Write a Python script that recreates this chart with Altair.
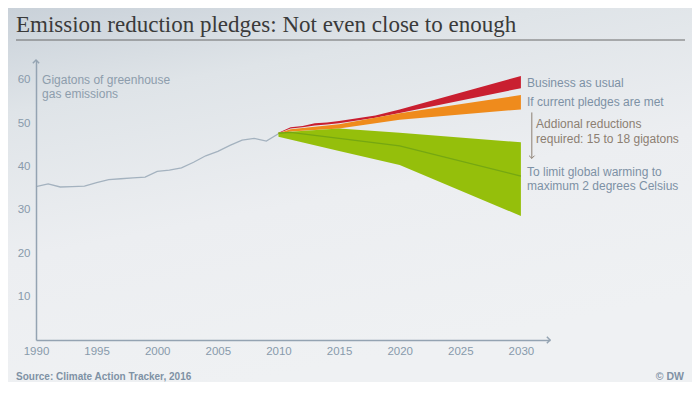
import altair as alt
import pandas as pd

# ---- data ----
hist_years = list(range(1990, 2011))
hist_values = [35.4, 36.0, 35.3, 35.4, 35.5, 36.3, 37.0, 37.2, 37.4, 37.6, 38.9,
               39.2, 39.7, 41.0, 42.5, 43.5, 44.9, 46.1, 46.5, 45.9, 47.6]

bau_years = [2010, 2011, 2012, 2013, 2014, 2015, 2018, 2020, 2030]
bau_low = [47.7, 48.8, 49.1, 49.5, 49.7, 50.0, 51.3, 52.4, 58.1]
bau_high = [47.8, 49.1, 49.4, 50.0, 50.2, 50.5, 51.8, 53.2, 60.9]

pledge_years = [2010, 2011, 2015, 2020, 2030]
pledge_low = [47.6, 48.1, 48.8, 50.8, 53.2]
pledge_high = [47.7, 48.6, 49.8, 52.3, 56.5]

two_deg_years = [2010, 2015, 2020, 2030]
two_deg_low = [46.9, 43.6, 40.4, 28.6]
two_deg_high = [47.9, 48.8, 47.8, 45.6]
two_deg_mid_years = [2010, 2011, 2020, 2030]
two_deg_mid = [47.7, 47.9, 44.8, 37.8]

x_ticks = [1990, 1995, 2000, 2005, 2010, 2015, 2020, 2025, 2030]
y_ticks = [10, 20, 30, 40, 50, 60]

label_text = ["Business as usual", "If current pledges are met",
              "To limit global warming to", "maximum 2 degrees Celsius"]
label_x = [2030.5, 2030.5, 2030.5, 2030.5]
label_y = [59.2, 54.8, 38.8, 35.5]

note_text = ["Addional reductions", "required: 15 to 18 gigatons"]
note_x = [2031.25, 2031.25]
note_y = [49.8, 46.3]

unit_text = ["Gigatons of greenhouse", "gas emissions"]
unit_x = [1990.5, 1990.5]
unit_y = [60.0, 56.7]

title_text = "Emission reduction pledges: Not even close to enough"
source_text = "Source: Climate Action Tracker, 2016"
credit_text = "© DW"

X_MAX = 2032.4
Y_MAX = 64.6

# ---- frames ----
hist = pd.DataFrame({"year": hist_years, "value": hist_values})
bands = pd.concat([
    pd.DataFrame({"year": bau_years, "low": bau_low, "high": bau_high, "series": "Business as usual"}),
    pd.DataFrame({"year": pledge_years, "low": pledge_low, "high": pledge_high, "series": "Pledges"}),
    pd.DataFrame({"year": two_deg_years, "low": two_deg_low, "high": two_deg_high, "series": "2 degrees"}),
])
mid = pd.DataFrame({"year": two_deg_mid_years, "value": two_deg_mid})
labels = pd.DataFrame({"x": label_x, "y": label_y, "t": label_text})
notes = pd.DataFrame({"x": note_x, "y": note_y, "t": note_text})
units = pd.DataFrame({"x": unit_x, "y": unit_y, "t": unit_text})
arrow_line = pd.DataFrame({"x": [2030.9], "y": [52.5], "y2": [41.9]})
arrow_head = pd.DataFrame({"x": [2030.9], "y": [41.9]})
x_arrow = pd.DataFrame({"x": [X_MAX], "y": [0.0]})
y_arrow = pd.DataFrame({"x": [1990.0], "y": [Y_MAX]})

xs = alt.Scale(domain=[1990, X_MAX], nice=False, zero=False)
ys = alt.Scale(domain=[0, Y_MAX], nice=False)

AXIS_COL = "#94a3b2"
LABEL_COL = "#889aab"
FONT = "Liberation Sans"

bg = alt.Chart(pd.DataFrame({"a": [0]})).mark_rect(
    color=alt.LinearGradient(
        gradient="linear",
        stops=[alt.GradientStop(color="#c9d1d9", offset=0),
               alt.GradientStop(color="#dfe4e8", offset=0.25),
               alt.GradientStop(color="#eceef1", offset=0.6),
               alt.GradientStop(color="#eff1f3", offset=1)],
        x1=0, y1=0, x2=0.35, y2=1,
    )
).encode(x=alt.value(-28), x2=alt.value(656), y=alt.value(-52), y2=alt.value(322))

hist_line = alt.Chart(hist).mark_line(color="#a4b2bf", strokeWidth=1.3).encode(
    x=alt.X("year:Q", scale=xs,
            axis=alt.Axis(values=x_ticks, format="d", title=None, grid=False, ticks=False,
                          domainColor=AXIS_COL, domainWidth=1.5, labelColor=LABEL_COL,
                          labelFont=FONT, labelFontSize=11.5, labelPadding=5, zindex=1,
                          labelFlush=False, labelOverlap=False)),
    y=alt.Y("value:Q", scale=ys,
            axis=alt.Axis(values=y_ticks, title=None, grid=False, ticks=False,
                          domainColor=AXIS_COL, domainWidth=1.5, labelColor=LABEL_COL,
                          labelFont=FONT, labelFontSize=11.5, labelPadding=6, zindex=1,
                          labelFlush=False, labelOverlap=False)),
)

band_layer = alt.Chart(bands).mark_area(opacity=1).encode(
    x=alt.X("year:Q", scale=xs),
    y=alt.Y("high:Q", scale=ys),
    y2="low:Q",
    color=alt.Color("series:N", legend=None,
                    scale=alt.Scale(domain=["Business as usual", "Pledges", "2 degrees"],
                                    range=["#c91f30", "#ef8b1c", "#95bf0b"])),
)

mid_line = alt.Chart(mid).mark_line(color="#75a712", strokeWidth=1.3).encode(
    x=alt.X("year:Q", scale=xs), y=alt.Y("value:Q", scale=ys))

label_layer = alt.Chart(labels).mark_text(
    align="left", baseline="middle", font=FONT, fontSize=12, color="#7d91a5"
).encode(x=alt.X("x:Q", scale=xs), y=alt.Y("y:Q", scale=ys), text="t:N")

note_layer = alt.Chart(notes).mark_text(
    align="left", baseline="middle", font=FONT, fontSize=12, color="#8c7f72"
).encode(x=alt.X("x:Q", scale=xs), y=alt.Y("y:Q", scale=ys), text="t:N")

unit_layer = alt.Chart(units).mark_text(
    align="left", baseline="middle", font=FONT, fontSize=12, color="#8d9dac"
).encode(x=alt.X("x:Q", scale=xs), y=alt.Y("y:Q", scale=ys), text="t:N")

arrow_rule = alt.Chart(arrow_line).mark_rule(color="#8c7f72", strokeWidth=1).encode(
    x=alt.X("x:Q", scale=xs), y=alt.Y("y:Q", scale=ys), y2="y2:Q")
arrow_tip = alt.Chart(arrow_head).mark_point(
    shape="M-1,-1L0,0L1,-1", size=30, filled=False, color="#8c7f72", strokeWidth=1, opacity=1
).encode(x=alt.X("x:Q", scale=xs), y=alt.Y("y:Q", scale=ys))

x_tip = alt.Chart(x_arrow).mark_point(
    shape="M-1,-1L0,0L-1,1", size=40, filled=False, color=AXIS_COL, strokeWidth=1.5, opacity=1
).encode(x=alt.X("x:Q", scale=xs), y=alt.Y("y:Q", scale=ys))
y_tip = alt.Chart(y_arrow).mark_point(
    shape="M-1,1L0,0L1,1", size=40, filled=False, color=AXIS_COL, strokeWidth=1.5, opacity=1
).encode(x=alt.X("x:Q", scale=xs), y=alt.Y("y:Q", scale=ys))

title_mark = alt.Chart(pd.DataFrame({"t": [title_text]})).mark_text(
    align="left", baseline="alphabetic", font="Liberation Serif", fontSize=23,
    color="#3a3a3a"
).encode(x=alt.value(-20), y=alt.value(-28), text="t:N")

title_rule = alt.Chart(pd.DataFrame({"a": [0]})).mark_rule(color="#6b6b6b", strokeWidth=1).encode(
    x=alt.value(-20), x2=alt.value(649), y=alt.value(-20))

footer = alt.Chart(pd.DataFrame({"t": [source_text]})).mark_text(
    align="left", baseline="middle", font=FONT, fontSize=10, fontWeight="bold", color="#7f92a5"
).encode(x=alt.value(-20), y=alt.value(317), text="t:N")

credit = alt.Chart(pd.DataFrame({"t": [credit_text]})).mark_text(
    align="right", baseline="middle", font=FONT, fontSize=10.5, fontWeight="bold", color="#7f92a5"
).encode(x=alt.value(648), y=alt.value(317), text="t:N")

chart = alt.layer(
    bg, hist_line, band_layer, mid_line, label_layer, note_layer, unit_layer,
    arrow_rule, arrow_tip, x_tip, y_tip, title_mark, title_rule, footer, credit
).properties(
    width=514, height=280,
    autosize=alt.AutoSizeParams(type="none"),
    padding={"left": 28, "top": 52, "right": 142, "bottom": 42},
    background="#eceef1",
).configure_view(stroke=None)

chart.save("out.html", embed_options={"renderer": "svg", "actions": False})
